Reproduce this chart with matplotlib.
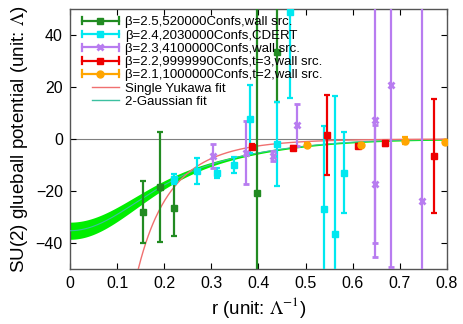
import numpy as np
import matplotlib
matplotlib.use("Agg")
import matplotlib.pyplot as plt
from matplotlib.lines import Line2D
from matplotlib.legend_handler import HandlerBase

plt.rcParams['font.family'] = ['Liberation Sans', 'DejaVu Sans']
plt.rcParams['mathtext.fontset'] = 'stix'

# ---- data ----
labels = [
    "β=2.5,520000Confs,wall src.",
    "β=2.4,2030000Confs,CDERT",
    "β=2.3,4100000Confs,wall src.",
    "β=2.2,9999990Confs,t=3,wall src.",
    "β=2.1,1000000Confs,t=2,wall src.",
]
fit_labels = ["Single Yukawa fit", "2-Gaussian fit"]

r25 = [0.155, 0.191, 0.221, 0.396, 0.440]
v25 = [-28.0, -18.5, -26.5, -20.7, 33.3]
e25 = [12.0, 21.0, 10.7, 80.0, 19.0]

r24 = [0.221, 0.2695, 0.311, 0.348, 0.381, 0.440, 0.467, 0.539, 0.5617, 0.582]
v24 = [-15.5, -12.3, -13.2, -10.1, 7.8, -1.9, 48.9, -26.9, -36.6, -12.9]
e24 = [2.0, 5.0, 2.0, 3.0, 13.0, 16.0, 33.0, 32.0, 53.0, 15.6]

r23 = [0.373, 0.304, 0.4314, 0.482, 0.647, 0.647, 0.682, 0.747]
v23 = [-5.2, -6.5, -6.5, 5.4, 7.5, -17.5, 20.7, -23.8]
e23 = [12.3, 4.7, 2.0, 8.0, 53.0, 22.7, 70.0, 80.0]

r22 = [0.386, 0.4726, 0.546, 0.612, 0.6685, 0.773]
v22 = [-3.0, -3.6, 1.6, -2.6, -1.7, -6.5]
e22 = [1.0, 0.8, 15.5, 0.8, 1.0, 22.0]

r21 = [0.5036, 0.617, 0.711, 0.796]
v21 = [-2.2, -2.2, -0.6, -1.3]
e21 = [0.6, 0.6, 1.5, 0.6]

# fit parameters
yuk_A, yuk_m = 21.7, 7.55
g_a1, g_s1, g_a2, g_s2 = 18.5, 0.177, 16.8, 0.37
band_w0, band_sw, band_w1 = 3.0, 0.22, 0.3

xticks = [0, 0.1, 0.2, 0.3, 0.4, 0.5, 0.6, 0.7, 0.8]
xticklabels = ["0", "0.1", "0.2", "0.3", "0.4", "0.5", "0.6", "0.7", "0.8"]
yticks = [-40, -20, 0, 20, 40]

colors = ['#228b22', '#00e8f0', '#b87cf0', '#ee0000', '#ffa500']
markers = ['s', 's', 'x', 's', 'o']
fit_colors = ['#f07070', '#3cc0a0']

# ---- plot ----
fig = plt.figure(figsize=(4.63, 3.24), dpi=100)
ax = fig.add_axes([0.151, 0.170, 0.8145, 0.802])

ax.axhline(0, color='#808080', lw=0.8, zorder=1)

r = np.linspace(0.0, 0.8, 400)
g = -g_a1 * np.exp(-(r / g_s1) ** 2) - g_a2 * np.exp(-(r / g_s2) ** 2)
w = band_w0 * np.exp(-(r / band_sw) ** 2) + band_w1
ax.fill_between(r, g - w, g + w, color='#00ee00', lw=0, zorder=2)
ax.plot(r, g, color=fit_colors[1], lw=0.8, zorder=3)

ry = np.linspace(0.12, 0.8, 400)
yk = -yuk_A * np.exp(-yuk_m * ry) / ry
ax.plot(ry, yk, color=fit_colors[0], lw=1.0, zorder=3)

kw = dict(lw=1.6, capsize=2.5, capthick=1.6, elinewidth=1.6, ls='none', zorder=4)
series = [(r25, v25, e25), (r24, v24, e24), (r23, v23, e23), (r22, v22, e22), (r21, v21, e21)]
for (xs, ys, es), c, m in zip(series, colors, markers):
    extra = dict(ms=4, mew=2) if m == 'x' else dict(ms=5)
    ax.errorbar(xs, ys, yerr=es, color=c, marker=m, **extra, **kw)

ax.set_xlim(0, 0.8)
ax.set_ylim(-50, 50)
ax.set_xticks(xticks)
ax.set_xticklabels(xticklabels)
ax.set_yticks(yticks)
ax.tick_params(direction='in', top=True, right=True, labelsize=11.5, length=4, width=0.8,
               colors='#000000', pad=5)
for s in ax.spines.values():
    s.set_color('#555555')
    s.set_linewidth(1.0)

ax.set_xlabel(r"r (unit: $\Lambda^{-1}$)", fontsize=13.5, labelpad=3)
ax.set_ylabel(r"SU(2) glueball potential (unit: $\Lambda$)", fontsize=13.5, labelpad=4)


# ---- legend with gnuplot-like horizontal error-bar keys ----
class Key:
    def __init__(self, color, marker=None, fit=False):
        self.color, self.marker, self.fit = color, marker, fit


class KeyHandler(HandlerBase):
    def create_artists(self, legend, orig, xdescent, ydescent, width, height, fontsize, trans):
        y = height / 2.0 - ydescent
        x0, x1 = -xdescent, -xdescent + width
        arts = []
        if orig.fit:
            x0 = x0 + 0.27 * width
            arts.append(Line2D([x0, x1], [y, y], color=orig.color, lw=1.0, transform=trans))
            return arts
        cap = 2.5
        arts.append(Line2D([x0, x1], [y, y], color=orig.color, lw=1.6, transform=trans))
        for xc in (x0, x1):
            arts.append(Line2D([xc, xc], [y - cap, y + cap], color=orig.color, lw=1.6, transform=trans))
        if orig.marker == 'x':
            arts.append(Line2D([(x0 + x1) / 2], [y], marker='x', ms=4, mew=2, color=orig.color, transform=trans))
        else:
            arts.append(Line2D([(x0 + x1) / 2], [y], marker=orig.marker, ms=5, color=orig.color,
                               ls='none', transform=trans))
        return arts


keys = [Key(c, m) for c, m in zip(colors, markers)] + [Key(c, fit=True) for c in fit_colors]
ax.legend(keys, labels + fit_labels, handler_map={Key: KeyHandler()},
          loc='upper left', bbox_to_anchor=(12 / 377, 1 - 7 / 260),
          borderaxespad=0, borderpad=0, frameon=False, fontsize=9.5,
          handlelength=2.8, handletextpad=0.5, labelspacing=0.08, handleheight=0.7)

fig.savefig("out.png", dpi=100)
